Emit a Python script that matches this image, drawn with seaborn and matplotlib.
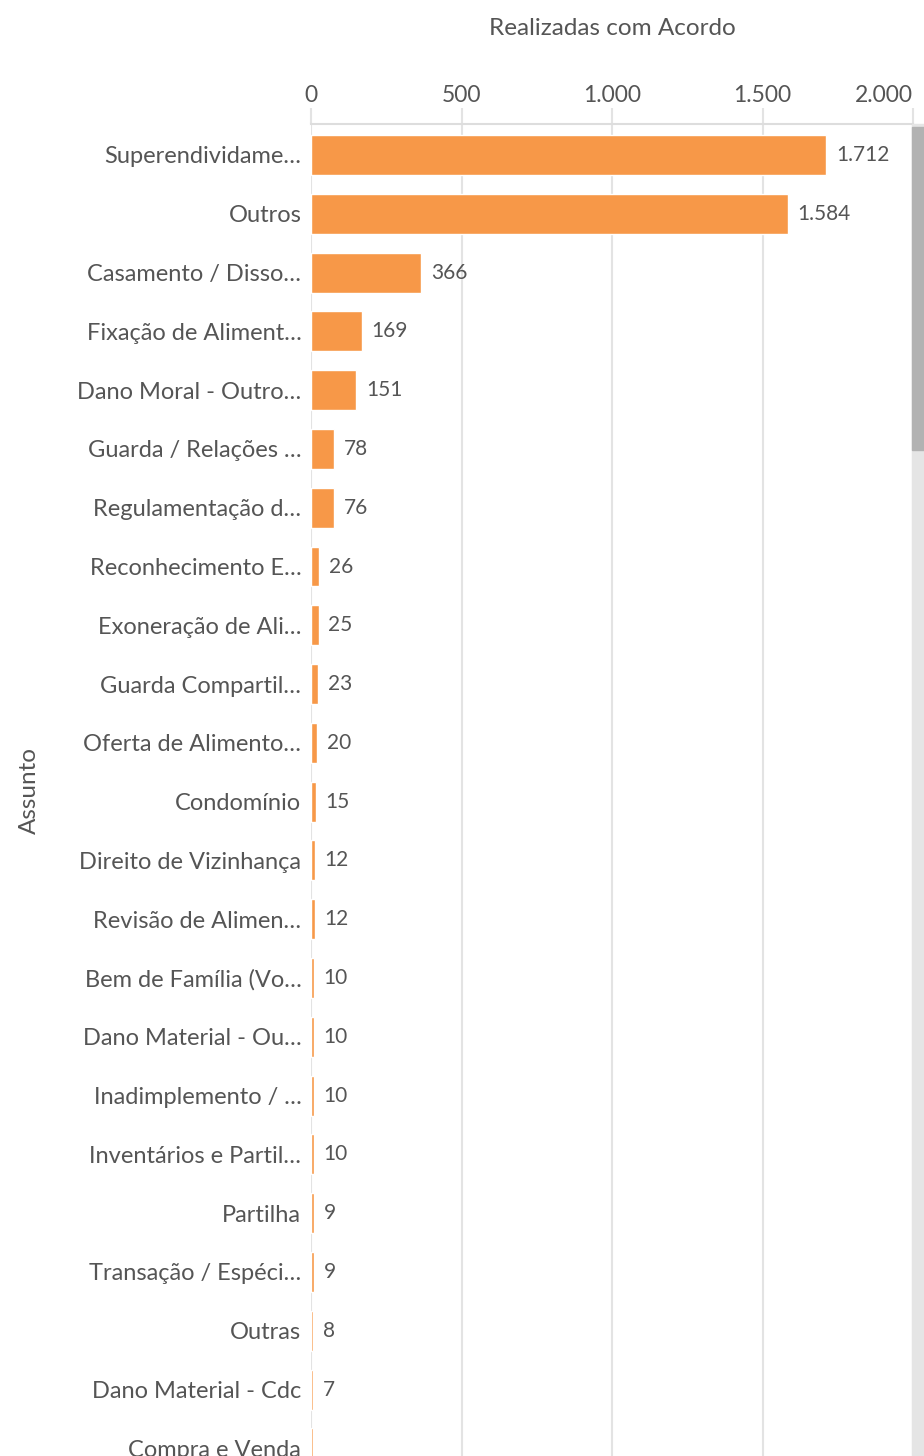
import numpy as np
import pandas as pd
import matplotlib.pyplot as plt
import seaborn as sns
from matplotlib.patches import Rectangle
from matplotlib.ticker import FuncFormatter

assuntos = [
    "Superendividame…", "Outros", "Casamento / Disso…", "Fixação de Aliment…",
    "Dano Moral - Outro…", "Guarda / Relações …", "Regulamentação d…",
    "Reconhecimento E…", "Exoneração de Ali…", "Guarda Compartil…",
    "Oferta de Alimento…", "Condomínio", "Direito de Vizinhança",
    "Revisão de Alimen…", "Bem de Família (Vo…", "Dano Material - Ou…",
    "Inadimplemento / …", "Inventários e Partil…", "Partilha",
    "Transação / Espéci…", "Outras", "Dano Material - Cdc", "Compra e Venda",
]
acordos = [1712, 1584, 366, 169, 151, 78, 76, 26, 25, 23, 20, 15, 12, 12,
           10, 10, 10, 10, 9, 9, 8, 7, 6]
xticks = [0, 500, 1000, 1500, 2000]

df = pd.DataFrame({"Assunto": assuntos, "Realizadas com Acordo": acordos})

sns.set_style("white")
plt.rcParams['font.family'] = ['Lato', 'DejaVu Sans']

W, H = 924, 1456
fig = plt.figure(figsize=(W / 100, H / 100), dpi=100)
# axes from x=311..913 px, y=124 px down to the bottom edge (chart is cut off)
ax = fig.add_axes([311 / W, 0, (913 - 311) / W, 1 - 124 / H])

txt = "#555555"
sns.barplot(data=df, y="Assunto", x="Realizadas com Acordo", orient="h",
            color="#F79848", saturation=1, width=0.68, ax=ax, zorder=3)

ax.set_xlim(0, 2000)
ax.set_ylim(22.13, -0.527)
ax.xaxis.tick_top()
ax.xaxis.set_label_position("top")
ax.set_xticks(xticks)
ax.xaxis.set_major_formatter(FuncFormatter(lambda v, p: f"{int(v):,}".replace(",", ".")))
ax.grid(axis="x", color="#e3e3e3", linewidth=1.5, zorder=0)
ax.tick_params(axis="x", length=11.5, width=1.5, color="#e3e3e3", labelsize=16.5,
               labelcolor=txt, pad=1.5)
ax.tick_params(axis="y", length=0, labelsize=17, labelcolor=txt, pad=7)
ax.get_xticklabels()[-1].set_horizontalalignment("right")

for s in ["right", "bottom", "left"]:
    ax.spines[s].set_visible(False)
ax.spines["top"].set_color("#dddddd")
ax.spines["top"].set_linewidth(1.5)

ax.set_xlabel("Realizadas com Acordo", fontsize=17.5, color=txt, labelpad=36)
ax.set_ylabel("Assunto", fontsize=17.5, color=txt)
ax.yaxis.set_label_coords(-0.45, 0.5)

# value labels (last one is cut off in the view)
labels = [f"{v:,}".replace(",", ".") for v in acordos]
labels[-1] = ""
ax.bar_label(ax.containers[0], labels=labels, padding=7, fontsize=15, color=txt)

# scrollbar on the right edge
fig.add_artist(Rectangle((912 / W, 0), 12 / W, 1 - 124 / H, transform=fig.transFigure,
                         color="#e5e5e5", zorder=5))
fig.add_artist(Rectangle((912 / W, 1 - 450 / H), 12 / W, (450 - 127) / H,
                         transform=fig.transFigure, color="#b2b2b2", zorder=6))

fig.savefig("out.png", dpi=100)
